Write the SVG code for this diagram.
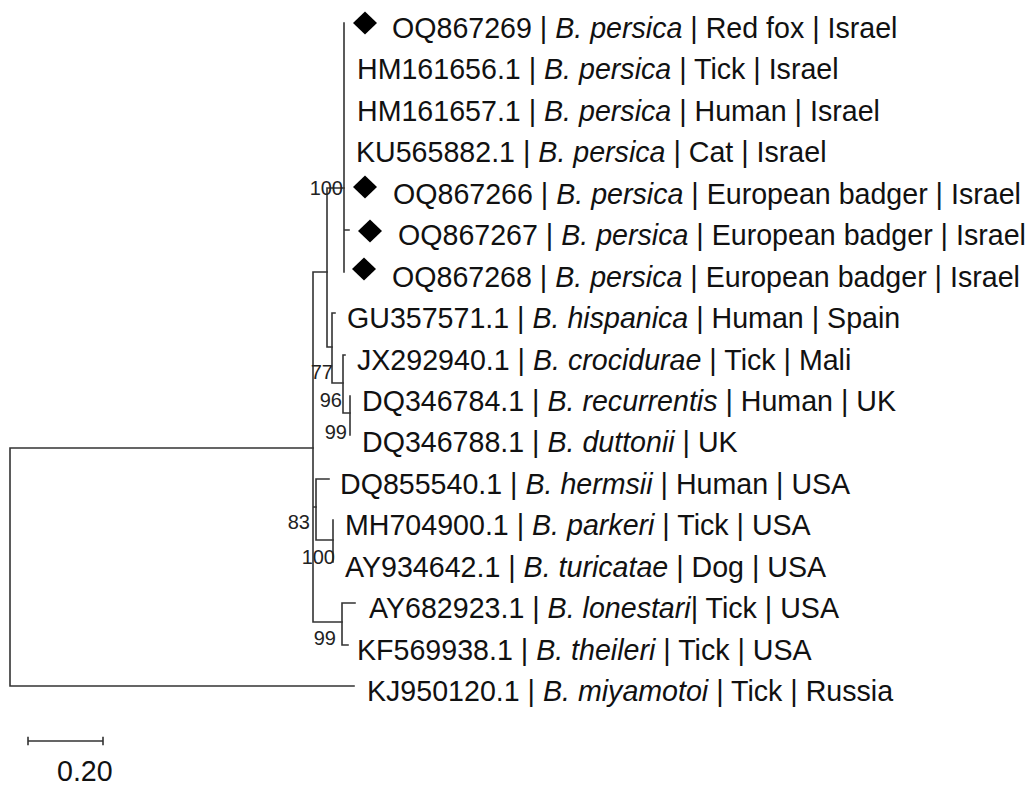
<svg xmlns="http://www.w3.org/2000/svg" width="1033" height="785" viewBox="0 0 1033 785">
<style>
.br{fill:none;stroke:#333;stroke-width:1.6;stroke-linecap:square}
.lb{font-family:"Liberation Sans",Arial,sans-serif;font-size:28.6px;fill:#111}
.bs{font-family:"Liberation Sans",Arial,sans-serif;font-size:20px;fill:#222;text-anchor:end}
.it{font-style:italic}
</style>
<defs>
<path id="dia" d="M0,-11.5 L12,0 L0,11.5 L-12,0Z" fill="#000"/>
</defs>
<rect width="1033" height="785" fill="#fff"/>
<g id="connectors" class="br">
<path d="M10,448 V686 M10,448 H313 M10,686 H354"/>
<path d="M313,272 V622 M313,272 H327 M313,507 H316 M313,622 H342"/>
<path d="M327,188 V347 M327,188 H344 M327,347 H332"/>
<path d="M344,23 V272 M344,230 H349"/>
<path d="M332,313 V383 M332,313 H335 M332,383 H343"/>
<path d="M343,355 V413 M343,355 H345 M343,413 H350"/>
<path d="M350,396 V435"/>
<path d="M316,479 V540 M316,479 H329 M316,540 H333"/>
<path d="M333,520 V562"/>
<path d="M342,603 V645 M342,603 H355 M342,645 H348"/>
</g>
<g id="leaf-OQ867269"><use href="#dia" x="365" y="23"/><text class="lb" x="392" y="38">OQ867269 | <tspan class="it">B. persica</tspan> | Red fox | Israel</text></g>
<g id="leaf-HM161656"><text class="lb" x="357" y="79">HM161656.1 | <tspan class="it">B. persica</tspan> | Tick | Israel</text></g>
<g id="leaf-HM161657"><text class="lb" x="357" y="121">HM161657.1 | <tspan class="it">B. persica</tspan> | Human | Israel</text></g>
<g id="leaf-KU565882"><text class="lb" x="356" y="162">KU565882.1 | <tspan class="it">B. persica</tspan> | Cat | Israel</text></g>
<g id="leaf-OQ867266"><use href="#dia" x="365" y="187"/><text class="lb" x="393" y="204">OQ867266 | <tspan class="it">B. persica</tspan> | European badger | Israel</text></g>
<g id="leaf-OQ867267"><use href="#dia" x="370" y="231"/><text class="lb" x="398" y="245">OQ867267 | <tspan class="it">B. persica</tspan> | European badger | Israel</text></g>
<g id="leaf-OQ867268"><use href="#dia" x="364" y="269"/><text class="lb" x="392" y="287">OQ867268 | <tspan class="it">B. persica</tspan> | European badger | Israel</text></g>
<g id="leaf-GU357571"><text class="lb" x="347" y="328">GU357571.1 | <tspan class="it">B. hispanica</tspan> | Human | Spain</text></g>
<g id="leaf-JX292940"><text class="lb" x="357" y="370">JX292940.1 | <tspan class="it">B. crocidurae</tspan> | Tick | Mali</text></g>
<g id="leaf-DQ346784"><text class="lb" x="362" y="411">DQ346784.1 | <tspan class="it">B. recurrentis</tspan> | Human | UK</text></g>
<g id="leaf-DQ346788"><text class="lb" x="362" y="452">DQ346788.1 | <tspan class="it">B. duttonii</tspan> | UK</text></g>
<g id="leaf-DQ855540"><text class="lb" x="340" y="494">DQ855540.1 | <tspan class="it">B. hermsii</tspan> | Human | USA</text></g>
<g id="leaf-MH704900"><text class="lb" x="345" y="535">MH704900.1 | <tspan class="it">B. parkeri</tspan> | Tick | USA</text></g>
<g id="leaf-AY934642"><text class="lb" x="345" y="577">AY934642.1 | <tspan class="it">B. turicatae</tspan> | Dog | USA</text></g>
<g id="leaf-AY682923"><text class="lb" x="369" y="618">AY682923.1 | <tspan class="it">B. lonestari</tspan>| Tick | USA</text></g>
<g id="leaf-KF569938"><text class="lb" x="357" y="660">KF569938.1 | <tspan class="it">B. theileri</tspan> | Tick | USA</text></g>
<g id="leaf-KJ950120"><text class="lb" x="367" y="701">KJ950120.1 | <tspan class="it">B. miyamotoi</tspan> | Tick | Russia</text></g>
<g id="bootstrap">
<text class="bs" x="343" y="195">100</text>
<text class="bs" x="333" y="379">77</text>
<text class="bs" x="342" y="407">96</text>
<text class="bs" x="347" y="439">99</text>
<text class="bs" x="310" y="529">83</text>
<text class="bs" x="335" y="564">100</text>
<text class="bs" x="336" y="645">99</text>
</g>
<g id="scale-bar">
<path class="br" d="M28,741 H103 M28,737.5 V744.5 M103,737.5 V744.5"/>
<text class="lb" x="57" y="781">0.20</text>
</g>
</svg>
